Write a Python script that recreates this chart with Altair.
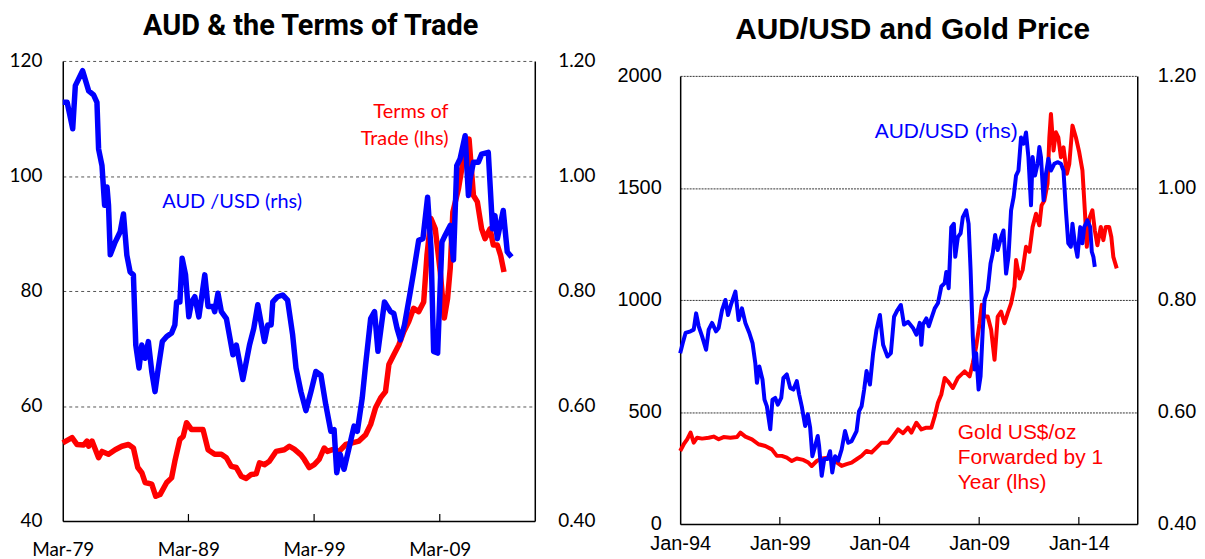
import altair as alt
import pandas as pd

# ---------------- Left panel: AUD & the Terms of Trade ----------------
tot_year = [1979.17, 1979.91, 1980.31, 1980.83, 1981.10, 1981.23, 1981.50, 1982.02, 1982.29, 1982.81,
            1983.34, 1983.87, 1984.40, 1984.79, 1985.14, 1985.46, 1985.72, 1986.25, 1986.57, 1986.91,
            1987.44, 1987.83, 1988.09, 1988.49, 1988.75, 1989.02, 1989.42, 1989.94, 1990.33, 1990.73,
            1991.26, 1991.79, 1992.19, 1992.58, 1992.98, 1993.37, 1993.77, 1994.17, 1994.56, 1994.82,
            1995.22, 1995.61, 1996.14, 1996.80, 1997.20, 1997.59, 1998.12, 1998.39, 1998.78, 1999.18,
            1999.57, 1999.97, 2000.23, 2000.63, 2001.16, 2001.69, 2002.21, 2002.74, 2003.27, 2003.67,
            2004.06, 2004.46, 2004.85, 2005.12, 2005.51, 2005.91, 2006.30, 2006.70, 2007.09, 2007.49,
            2007.89, 2008.15, 2008.47, 2008.81, 2009.21, 2009.53, 2009.79, 2010.00, 2010.21, 2010.66,
            2011.05, 2011.50, 2011.85, 2012.16, 2012.50, 2012.77, 2013.17, 2013.43, 2013.75, 2014.01,
            2014.28]
tot_value = [53.6, 54.5, 53.3, 53.2, 53.9, 53.0, 53.9, 51.0, 52.1, 51.6,
             52.4, 53.0, 53.3, 52.7, 49.3, 48.4, 46.7, 46.4, 44.3, 44.6,
             46.7, 47.5, 50.4, 54.2, 54.7, 57.1, 55.9, 55.9, 55.9, 52.4,
             51.6, 51.6, 51.0, 49.5, 49.3, 47.8, 47.4, 48.1, 48.2, 50.1,
             49.8, 50.4, 52.1, 52.4, 53.0, 52.5, 51.5, 50.7, 49.3, 49.8,
             50.7, 52.7, 52.1, 52.4, 52.1, 53.3, 53.6, 53.9, 55.0, 56.8,
             59.7, 61.4, 62.5, 67.2, 68.9, 70.6, 72.9, 74.7, 77.0, 76.4,
             78.1, 86.2, 92.6, 90.8, 83.3, 75.3, 78.7, 83.9, 93.7, 97.8,
             103.0, 106.4, 96.6, 95.5, 90.8, 89.1, 90.8, 88.0, 88.0, 86.2,
             83.3]

audl_year = [1979.17, 1979.52, 1979.96, 1980.17, 1980.75, 1981.23, 1981.62, 1981.89, 1982.02, 1982.29,
             1982.50, 1982.69, 1982.81, 1982.95, 1983.34, 1983.74, 1984.00, 1984.27, 1984.53, 1984.79,
             1984.98, 1985.24, 1985.46, 1985.72, 1985.98, 1986.25, 1986.51, 1986.77, 1987.09, 1987.44,
             1987.83, 1988.09, 1988.23, 1988.49, 1988.67, 1988.94, 1989.20, 1989.42, 1989.68, 1990.00,
             1990.47, 1990.73, 1991.13, 1991.26, 1991.52, 1991.79, 1992.19, 1992.71, 1992.98, 1993.50,
             1994.03, 1994.37, 1994.69, 1995.22, 1995.48, 1995.75, 1995.88, 1996.27, 1996.67, 1997.06,
             1997.46, 1997.73, 1998.12, 1998.52, 1998.92, 1999.31, 1999.71, 2000.10, 2000.50, 2000.76,
             2000.97, 2001.24, 2001.55, 2001.95, 2002.35, 2002.61, 2003.00, 2003.27, 2003.67, 2003.98,
             2004.25, 2004.77, 2005.25, 2005.51, 2005.77, 2006.04, 2006.36, 2006.78, 2007.09, 2007.49,
             2007.83, 2008.20, 2008.47, 2008.68, 2009.00, 2009.34, 2009.60, 2010.00, 2010.26, 2010.52,
             2010.79, 2011.19, 2011.45, 2011.58, 2011.85, 2012.24, 2012.50, 2013.03, 2013.37, 2013.56,
             2013.75, 2014.22, 2014.54, 2014.88]
audl_value = [1.128, 1.128, 1.082, 1.157, 1.183, 1.148, 1.141, 1.128, 1.047, 1.018,
              0.949, 0.981, 0.949, 0.863, 0.885, 0.903, 0.934, 0.862, 0.833, 0.828,
              0.706, 0.666, 0.706, 0.683, 0.712, 0.660, 0.625, 0.666, 0.712, 0.721,
              0.727, 0.741, 0.781, 0.781, 0.857, 0.828, 0.755, 0.781, 0.790, 0.755,
              0.828, 0.773, 0.773, 0.764, 0.796, 0.764, 0.752, 0.689, 0.706, 0.646,
              0.706, 0.735, 0.776, 0.712, 0.741, 0.741, 0.781, 0.790, 0.793, 0.784,
              0.724, 0.666, 0.625, 0.592, 0.625, 0.660, 0.654, 0.602, 0.556, 0.559,
              0.484, 0.516, 0.490, 0.527, 0.565, 0.556, 0.614, 0.672, 0.752, 0.764,
              0.695, 0.781, 0.764, 0.761, 0.735, 0.715, 0.741, 0.793, 0.833, 0.888,
              0.891, 0.963, 0.874, 0.695, 0.692, 0.885, 0.897, 0.914, 0.854, 1.018,
              1.030, 1.070, 0.966, 0.995, 1.024, 1.024, 1.038, 1.041, 0.908, 0.931,
              0.891, 0.940, 0.868, 0.859]

left_tick_years = [1979.17, 1989.17, 1999.17, 2009.17]
left_tick_labels = ["Mar-79", "Mar-89", "Mar-99", "Mar-09"]
left_x_domain = [1979.17, 2016.73]
left_lhs_ticks = [40, 60, 80, 100, 120]
left_rhs_ticks = [0.40, 0.60, 0.80, 1.00, 1.20]

left_lhs_notes = ["Terms of", "Trade (lhs)"]
left_lhs_note_x = [2009.87, 2009.87]
left_lhs_note_y = [111.1, 106.4]
left_rhs_notes = ["AUD /USD (rhs)"]
left_rhs_note_x = [1987.09]
left_rhs_note_y = [0.955]

# ---------------- Right panel: AUD/USD and Gold Price ----------------
gold_year = [1994.00, 1994.18, 1994.35, 1994.52, 1994.68, 1994.85, 1995.10, 1995.43, 1995.68, 1995.93,
             1996.18, 1996.52, 1996.85, 1997.02, 1997.27, 1997.60, 1997.93, 1998.27, 1998.60, 1998.85,
             1999.10, 1999.35, 1999.60, 1999.85, 2000.18, 2000.43, 2000.60, 2000.85, 2001.10, 2001.43,
             2001.77, 2002.10, 2002.35, 2002.60, 2002.85, 2003.10, 2003.35, 2003.60, 2003.85, 2004.10,
             2004.43, 2004.68, 2004.93, 2005.18, 2005.43, 2005.60, 2005.85, 2006.10, 2006.35, 2006.60,
             2006.77, 2006.93, 2007.10, 2007.27, 2007.43, 2007.68, 2007.93, 2008.27, 2008.52, 2008.68,
             2008.85, 2009.02, 2009.13, 2009.27, 2009.43, 2009.60, 2009.77, 2009.93, 2010.10, 2010.27,
             2010.43, 2010.60, 2010.77, 2010.85, 2011.02, 2011.18, 2011.35, 2011.52, 2011.68, 2011.85,
             2012.02, 2012.13, 2012.27, 2012.43, 2012.52, 2012.60, 2012.73, 2012.85, 2012.97, 2013.10,
             2013.23, 2013.40, 2013.52, 2013.68, 2013.85, 2014.02, 2014.18, 2014.30, 2014.40, 2014.52,
             2014.68, 2014.80, 2014.93, 2015.10, 2015.23, 2015.35, 2015.52, 2015.63, 2015.73, 2015.90]
gold_value = [326, 356, 378, 408, 363, 385, 381, 385, 390, 378,
              388, 385, 388, 408, 390, 378, 356, 348, 333, 304,
              304, 296, 281, 292, 286, 274, 259, 281, 292, 296,
              281, 259, 267, 274, 289, 304, 326, 319, 341, 363,
              363, 392, 422, 405, 430, 408, 452, 422, 430, 430,
              481, 541, 578, 652, 637, 607, 652, 681, 659, 719,
              792, 896, 978, 926, 926, 867, 733, 926, 948, 896,
              941, 985, 1059, 1178, 1096, 1133, 1237, 1215, 1326, 1385,
              1333, 1422, 1444, 1519, 1726, 1830, 1667, 1748, 1726, 1637,
              1681, 1563, 1607, 1778, 1726, 1659, 1578, 1400, 1237, 1363,
              1400, 1311, 1244, 1326, 1267, 1326, 1326, 1281, 1192, 1141]

audr_year = [1994.00, 1994.13, 1994.27, 1994.52, 1994.68, 1994.80, 1994.93, 1995.10, 1995.30, 1995.43,
             1995.60, 1995.80, 1995.93, 1996.10, 1996.27, 1996.40, 1996.57, 1996.77, 1996.93, 1997.10,
             1997.27, 1997.47, 1997.63, 1997.77, 1997.85, 1997.97, 1998.13, 1998.23, 1998.35, 1998.52,
             1998.63, 1998.77, 1998.90, 1999.07, 1999.18, 1999.35, 1999.52, 1999.68, 1999.85, 1999.97,
             2000.10, 2000.27, 2000.40, 2000.52, 2000.63, 2000.77, 2000.90, 2000.97, 2001.10, 2001.23,
             2001.40, 2001.52, 2001.63, 2001.77, 2001.93, 2002.10, 2002.27, 2002.43, 2002.60, 2002.85,
             2002.97, 2003.10, 2003.23, 2003.35, 2003.52, 2003.68, 2003.85, 2004.02, 2004.18, 2004.40,
             2004.57, 2004.73, 2004.90, 2005.07, 2005.23, 2005.43, 2005.68, 2005.85, 2006.02, 2006.10,
             2006.18, 2006.35, 2006.47, 2006.60, 2006.77, 2006.93, 2007.10, 2007.27, 2007.35, 2007.47,
             2007.60, 2007.73, 2007.80, 2007.93, 2008.07, 2008.18, 2008.35, 2008.47, 2008.57, 2008.68,
             2008.77, 2008.85, 2008.97, 2009.07, 2009.18, 2009.27, 2009.43, 2009.57, 2009.68, 2009.80,
             2009.93, 2010.10, 2010.22, 2010.35, 2010.47, 2010.60, 2010.73, 2010.85, 2010.97, 2011.10,
             2011.23, 2011.35, 2011.47, 2011.60, 2011.68, 2011.80, 2011.93, 2012.02, 2012.10, 2012.23,
             2012.35, 2012.47, 2012.60, 2012.77, 2012.93, 2013.10, 2013.23, 2013.35, 2013.47, 2013.60,
             2013.68, 2013.80, 2013.93, 2014.07, 2014.18, 2014.27, 2014.43, 2014.57, 2014.65, 2014.73,
             2014.80]
audr_value = [0.705, 0.723, 0.741, 0.744, 0.747, 0.776, 0.753, 0.735, 0.711, 0.747,
              0.759, 0.744, 0.750, 0.782, 0.800, 0.773, 0.794, 0.815, 0.764, 0.785,
              0.759, 0.741, 0.723, 0.687, 0.652, 0.681, 0.658, 0.622, 0.610, 0.569,
              0.622, 0.625, 0.613, 0.625, 0.661, 0.667, 0.643, 0.640, 0.655, 0.631,
              0.610, 0.575, 0.596, 0.572, 0.521, 0.539, 0.557, 0.539, 0.486, 0.516,
              0.516, 0.530, 0.492, 0.521, 0.513, 0.533, 0.566, 0.545, 0.548, 0.566,
              0.601, 0.610, 0.640, 0.673, 0.649, 0.705, 0.747, 0.773, 0.720, 0.699,
              0.705, 0.770, 0.782, 0.791, 0.756, 0.761, 0.750, 0.738, 0.759, 0.720,
              0.756, 0.767, 0.753, 0.767, 0.785, 0.794, 0.824, 0.830, 0.850, 0.821,
              0.930, 0.936, 0.877, 0.912, 0.919, 0.948, 0.960, 0.936, 0.853, 0.735,
              0.676, 0.705, 0.640, 0.664, 0.747, 0.800, 0.818, 0.865, 0.883, 0.916,
              0.889, 0.912, 0.924, 0.847, 0.877, 0.960, 0.984, 1.022, 1.031, 1.090,
              1.079, 1.099, 1.055, 0.969, 1.055, 1.022, 1.043, 1.073, 1.055, 0.978,
              1.025, 1.052, 1.031, 1.043, 1.046, 1.043, 1.031, 0.960, 0.901, 0.895,
              0.936, 0.901, 0.877, 0.930, 0.901, 0.930, 0.942, 0.930, 0.886, 0.877,
              0.859]

right_tick_years = [1994.0, 1999.0, 2004.0, 2009.0, 2014.0]
right_tick_labels = ["Jan-94", "Jan-99", "Jan-04", "Jan-09", "Jan-14"]
right_x_domain = [1994.0, 2016.93]
right_lhs_ticks = [0, 500, 1000, 1500, 2000]
right_rhs_ticks = [0.40, 0.60, 0.80, 1.00, 1.20]

right_lhs_notes = ["Gold US$/oz", "Forwarded by 1", "Year (lhs)"]
right_lhs_note_x = [2007.93, 2007.93, 2007.93]
right_lhs_note_y = [407, 296, 185]
right_rhs_notes = ["AUD/USD (rhs)"]
right_rhs_note_x = [2010.93]
right_rhs_note_y = [1.099]

RED = "#FF0000"
BLUE = "#0000FF"


def label_expr(values, labels):
    arr_l = ",".join("'%s'" % s for s in labels)
    arr_v = ",".join(repr(v) for v in values)
    return "[%s][indexof([%s], datum.value)]" % (arr_l, arr_v)


def panel(title, title_font, title_size, title_offset, title_dx, font, fsize,
          W, H, top_gap, x_domain, tick_years, tick_labels,
          lhs_year, lhs_val, lhs_ticks, lhs_fmt, lhs_dom,
          rhs_year, rhs_val, rhs_ticks, rhs_dom,
          lhs_notes, lhs_nx, lhs_ny, lhs_align,
          rhs_notes, rhs_nx, rhs_ny, rhs_align,
          note_font, note_size, lw, grid_dash, grid_color, lpad_l, lpad_r, lpad_b):
    yr = [H, top_gap]
    xs = alt.Scale(domain=x_domain, nice=False, zero=False)
    xa = alt.Axis(values=tick_years, labelExpr=label_expr(tick_years, tick_labels),
                  ticks=False, grid=False, domainColor="black", domainWidth=1.5,
                  labelFont=font, labelFontSize=fsize, labelColor="black",
                  labelPadding=lpad_b, labelFlush=False, labelOverlap=False, title=None)
    ys_l = alt.Scale(domain=lhs_dom, range=yr, nice=False, zero=False)
    ya_l = alt.Axis(orient="left", values=lhs_ticks, format=lhs_fmt, grid=True,
                    gridDash=grid_dash, gridColor=grid_color, gridWidth=1,
                    ticks=False, domainColor="black", domainWidth=1.5,
                    labelFont=font, labelFontSize=fsize, labelColor="black",
                    labelPadding=lpad_l, labelOverlap=False, title=None)
    ys_r = alt.Scale(domain=rhs_dom, range=yr, nice=False, zero=False)
    ya_r = alt.Axis(orient="right", values=rhs_ticks, format=".2f", grid=False,
                    ticks=False, domainColor="black", domainWidth=1.5,
                    labelFont=font, labelFontSize=fsize, labelColor="black",
                    labelPadding=lpad_r, labelOverlap=False, title=None)

    d_l = pd.DataFrame({"x": lhs_year, "y": lhs_val})
    d_r = pd.DataFrame({"x": rhs_year, "y": rhs_val})
    d_t = pd.DataFrame({"x": tick_years[1:]})
    n_l = pd.DataFrame({"x": lhs_nx, "y": lhs_ny, "t": lhs_notes})
    n_r = pd.DataFrame({"x": rhs_nx, "y": rhs_ny, "t": rhs_notes})

    red = alt.Chart(d_l).mark_line(color=RED, strokeWidth=lw, strokeJoin="round").encode(
        x=alt.X("x:Q", scale=xs, axis=xa), y=alt.Y("y:Q", scale=ys_l, axis=ya_l))
    ticks = alt.Chart(d_t).mark_rule(color="black", strokeWidth=1.2).encode(
        x=alt.X("x:Q", scale=xs, axis=xa), y=alt.value(H), y2=alt.value(H - 7))
    red_txt = alt.Chart(n_l).mark_text(color=RED, font=note_font, fontSize=note_size,
                                       align=lhs_align, baseline="middle").encode(
        x=alt.X("x:Q", scale=xs, axis=xa), y=alt.Y("y:Q", scale=ys_l, axis=ya_l), text="t:N")
    blue = alt.Chart(d_r).mark_line(color=BLUE, strokeWidth=lw, strokeJoin="round").encode(
        x=alt.X("x:Q", scale=xs, axis=xa), y=alt.Y("y:Q", scale=ys_r, axis=ya_r))
    blue_txt = alt.Chart(n_r).mark_text(color=BLUE, font=note_font, fontSize=note_size,
                                        align=rhs_align, baseline="middle").encode(
        x=alt.X("x:Q", scale=xs, axis=xa), y=alt.Y("y:Q", scale=ys_r, axis=ya_r), text="t:N")

    lhs = alt.layer(red, ticks, red_txt)
    rhs = alt.layer(blue, blue_txt)
    return alt.layer(lhs, rhs).resolve_scale(y="independent").properties(
        width=W, height=H,
        title=alt.TitleParams(text=title, font=title_font, fontSize=title_size,
                              fontWeight="bold", color="black", anchor="middle",
                              offset=title_offset, dx=title_dx))


left = panel("AUD & the Terms of Trade", "Roboto", 29, 11, 12, "Lato", 19,
             474, 462, 0, left_x_domain, left_tick_years, left_tick_labels,
             tot_year, tot_value, left_lhs_ticks, "d", [40, 120],
             audl_year, audl_value, left_rhs_ticks, [0.40, 1.20],
             left_lhs_notes, left_lhs_note_x, left_lhs_note_y, "right",
             left_rhs_notes, left_rhs_note_x, left_rhs_note_y, "left",
             "Lato", 20, 5.5, [3, 3], "#555555", 21, 23, 20)

right = panel("AUD/USD and Gold Price", "Liberation Sans", 30, 16, 4, "Liberation Sans", 20,
              459, 465, 15, right_x_domain, right_tick_years, right_tick_labels,
              gold_year, gold_value, right_lhs_ticks, "d", [0, 2000],
              audr_year, audr_value, right_rhs_ticks, [0.40, 1.20],
              right_lhs_notes, right_lhs_note_x, right_lhs_note_y, "left",
              right_rhs_notes, right_rhs_note_x, right_rhs_note_y, "right",
              "Liberation Sans", 21, 4, [2, 1], "#333333", 19, 20, 10)

chart = alt.concat(left, right, columns=2, align="none", spacing=20).properties(
    padding={"left": 0, "top": 2, "right": 0, "bottom": 0},
    background="white",
).configure_view(stroke="transparent")

chart.save("out.html", embed_options={"renderer": "svg", "actions": False})
